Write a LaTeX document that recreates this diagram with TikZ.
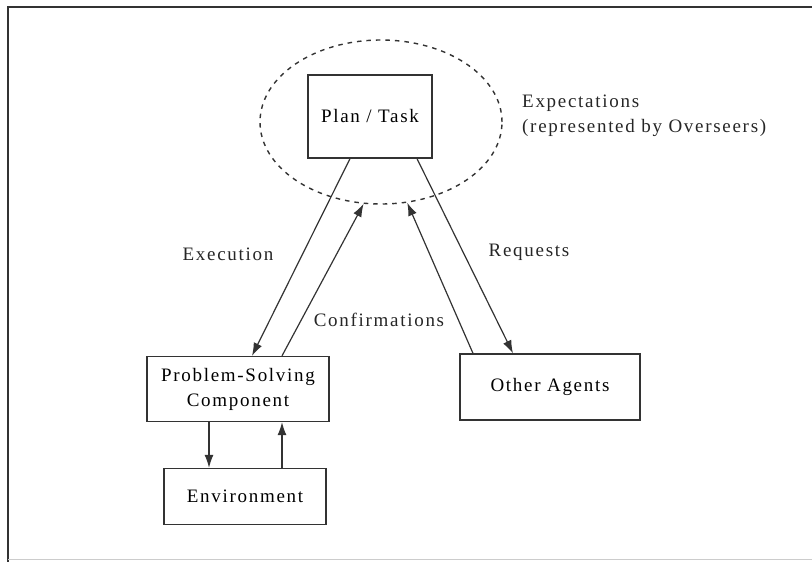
\documentclass[tikz,border=0pt]{standalone}
\usepackage{fontspec}
\setmainfont{Liberation Serif}[LetterSpace=9]
\usetikzlibrary{arrows.meta,shapes.geometric}

\tikzset{
	block/.style={draw=black!80,line width=1.3pt,fill=white,inner sep=0pt,align=center},
	link/.style={draw=black!80,line width=1.2pt,-{Latex[length=13pt,width=9pt]}},
	lbl/.style={inner sep=0pt,text=black!85}
}

\begin{document}
\begin{tikzpicture}[x=1pt,y=-1pt,font=\fontsize{19}{25}\selectfont]
	\useasboundingbox (0,0) rectangle (812,562);
	% frame
	\draw[black!80,line width=1.2pt] (812,7) -- (8,7) -- (8,562);
	\draw[black!20,line width=1pt] (8,559) -- (812,559);
	% expectation ring and boxes
	\node[ellipse,draw=black!80,dash pattern=on 4.5pt off 5pt,line width=1.4pt,minimum width=242pt,minimum height=164pt] (expect) at (381,122) {};
	\node[block,minimum width=124pt,minimum height=83pt] (plan) at (370,116.5) {Plan / Task};
	\node[block,minimum width=182pt,minimum height=65pt] (psc) at (238,389) {Problem-Solving\\Component};
	\node[block,minimum width=162pt,minimum height=56pt] (env) at (245,496.5) {Environment};
	\node[block,minimum width=180pt,minimum height=66pt] (agents) at (550,387) {Other Agents};
	\node[lbl,anchor=west,align=left] (expl) at (522,116) {Expectations\\(represented by Overseers)};
	% connectors
	\draw[link] ([xshift=-20pt]plan.south) -- ([xshift=14pt]psc.north);
	\draw[link] ([xshift=44pt]psc.north) -- (expect.258);
	\draw[link] ([xshift=-77pt]agents.north) -- (expect.288);
	\draw[link] ([xshift=47pt]plan.south) -- ([xshift=-37pt]agents.north);
	\draw[link] ([xshift=-29pt]psc.south) -- ([xshift=-29pt]psc.south |- env.north);
	\draw[link] ([xshift=37pt]env.north) -- ([xshift=37pt]env.north |- psc.south);
	% labels
	\node[lbl] (exec) at (228,254) {Execution};
	\node[lbl] (req) at (529,252) {Requests};
	\node[lbl] (conf) at (379,320) {Confirmations};
\end{tikzpicture}
\end{document}
